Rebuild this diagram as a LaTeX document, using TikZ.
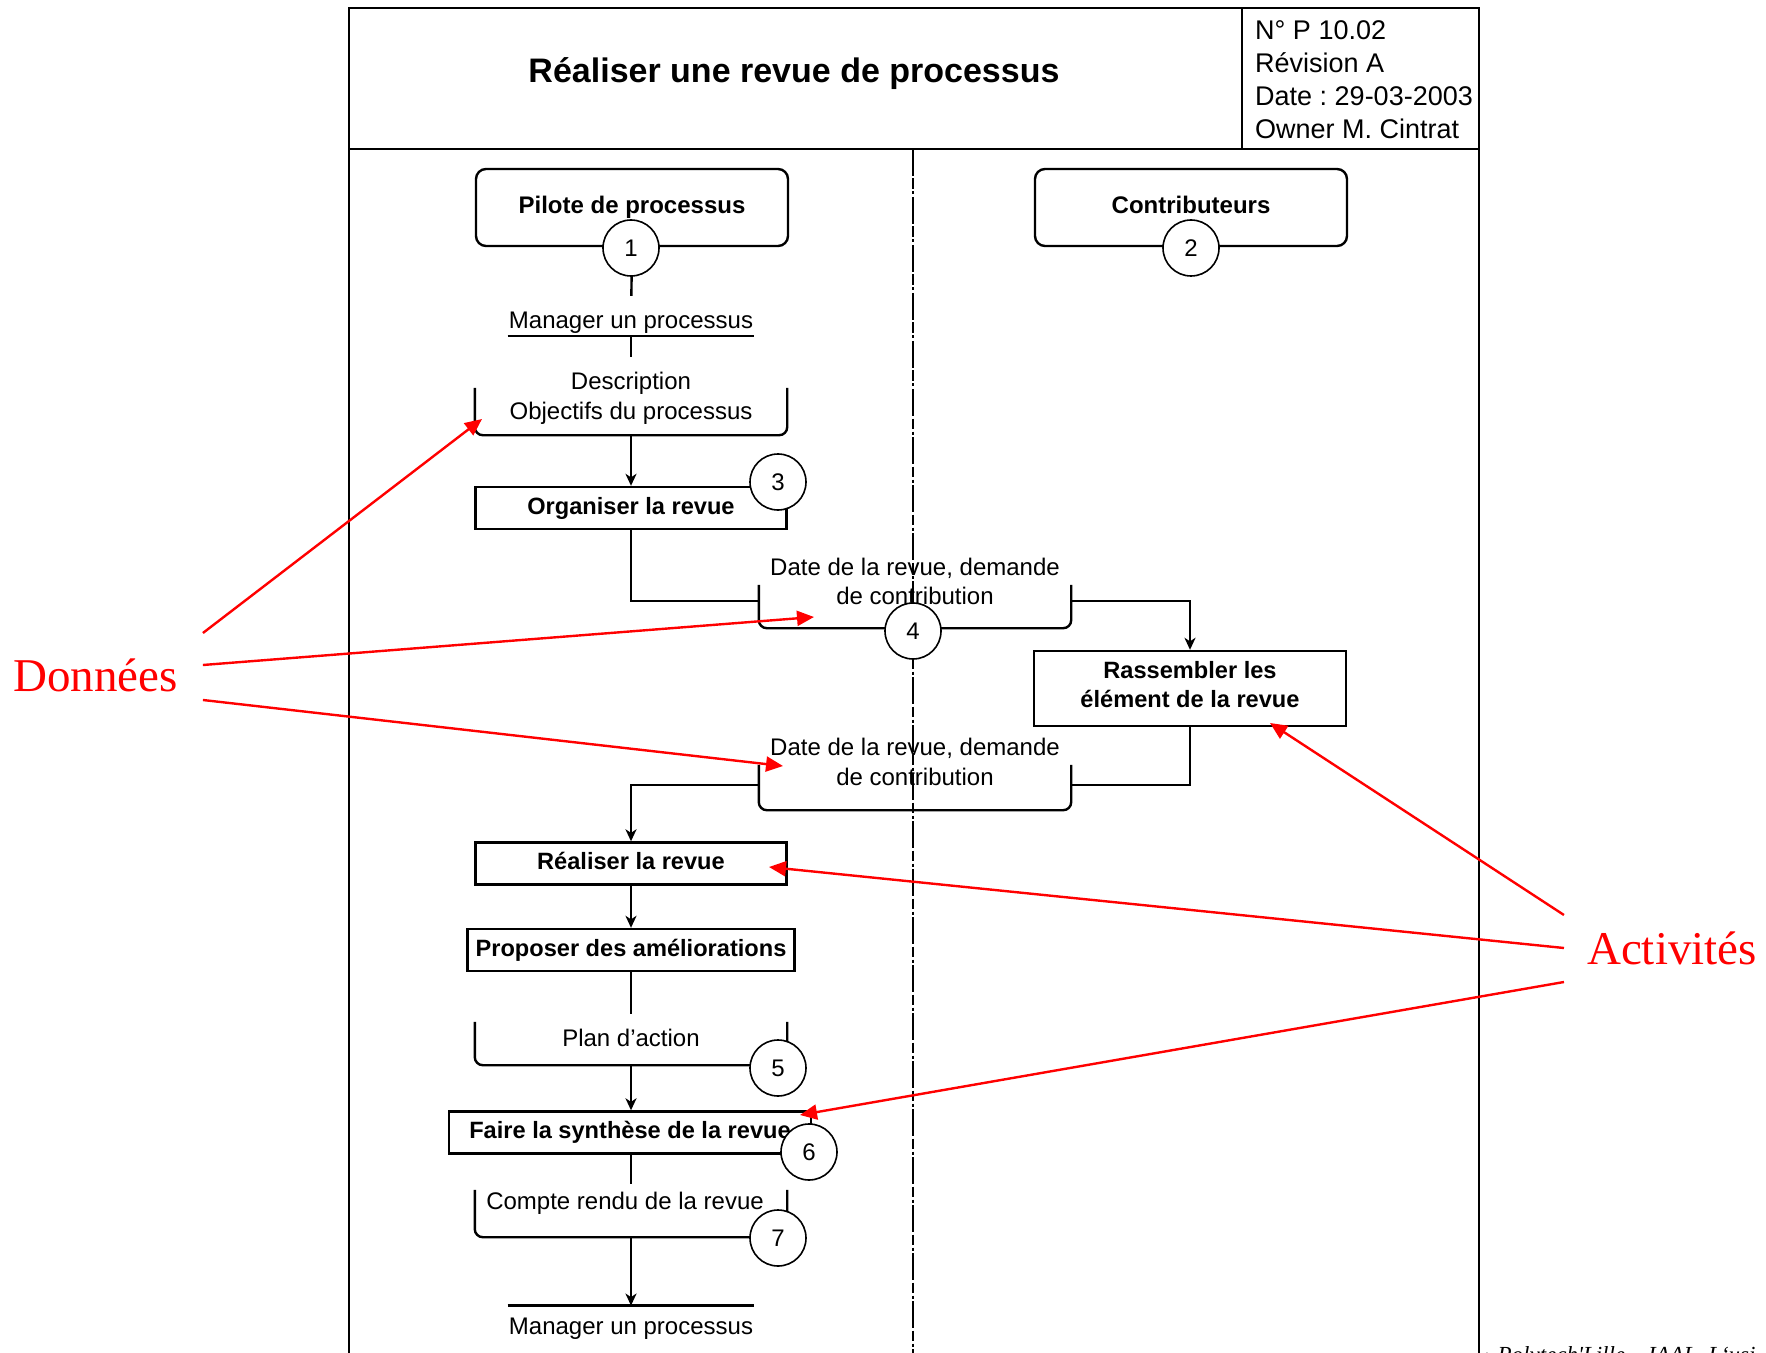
\documentclass[tikz,border=0pt]{standalone}
\usepackage{fontspec}
\setmainfont{Liberation Sans}
\newfontfamily\timesfont{Liberation Serif}
\frenchspacing
\usepackage{tikz}
\usetikzlibrary{arrows.meta,positioning,calc}
\tikzstyle{acteur}=[draw,rounded corners=5pt,minimum width=156pt,minimum height=38.5pt,text depth=2.5pt,font=\fontsize{12}{14.5}\selectfont\bfseries]
\tikzstyle{activite}=[draw,minimum height=21pt,inner sep=0pt,align=center,text depth=2.5pt,font=\fontsize{11.8}{14.5}\selectfont\bfseries]
\tikzstyle{numero}=[draw,circle,fill=white,line width=0.8pt,minimum size=28pt,inner sep=0pt,font=\fontsize{12}{14}\selectfont]
\tikzstyle{donnee}=[minimum width=155pt,inner sep=0pt]
\tikzstyle{crochet}=[draw,rounded corners=4pt]
\tikzstyle{texte}=[align=center,font=\fontsize{12}{14.75}\selectfont]
\tikzstyle{renvoi}=[inner xsep=0pt,font=\fontsize{12}{14.5}\selectfont]
\tikzstyle{flux}=[-{Stealth[length=6pt,width=5.5pt,inset=1.8pt]}]
\tikzstyle{rouge}=[red,line width=1.2pt,-{Triangle[length=8.5pt,width=7.5pt]}]
\tikzstyle{legende}=[red,font=\timesfont\fontsize{23.5}{28}\selectfont,anchor=base]

\begin{document}
\begin{tikzpicture}[x=0.5pt,y=-0.5pt,line width=1.2pt]
\useasboundingbox (0,0) rectangle (1766,1353);

% cadre et cartouche
\draw[line width=1.3pt] (349,1360) -- (349,8) -- (1479,8) -- (1479,1360);
\draw (349,149) -- (1479,149);
\draw (1242,8) -- (1242,149);
\node[font=\fontsize{17}{20}\selectfont\bfseries] (titre) at (794,73.5) {Réaliser une revue de processus};
\node[anchor=north west,align=left,inner sep=0pt,font=\fontsize{13.5}{16.5}\selectfont] (info) at (1254,19)
  {N° P 10.02\\Révision A\\Date : 29-03-2003\\Owner M. Cintrat};

% separation des couloirs
\draw[dash pattern=on 13.5pt off 1.25pt on 5.25pt off 1.25pt on 1.5pt off 1.25pt] (913,149) -- (913,1360);

% acteurs
\node[acteur] (pilote) at (632,207.5) {Pilote de processus};
\node[acteur] (contrib) at (1191,207.5) {Contributeurs};

% renvois
\node[renvoi,inner ysep=0.75pt] (mgr1) at (631,322.4) {Manager un processus};
\draw (mgr1.south west) -- (mgr1.south east);
\node[renvoi,inner ysep=5.45pt] (mgr2) at (631,1328.4) {Manager un processus};
\draw (mgr2.north west) -- (mgr2.north east);

% donnees
\node[donnee,minimum height=22.5pt] (d1) at (631,411.5) {};
\draw[crochet] (d1.north west) |- (d1.south east) -- (d1.north east);
\node[texte] (t1) at (631,398.5) {Description\\Objectifs du processus};
\node[donnee,minimum height=20.5pt] (d4) at (915,606.5) {};
\draw[crochet] (d4.north west) |- (d4.south east) -- (d4.north east);
\node[texte] (t4) at (915,581.5) {Date de la revue, demande\\de contribution};
\node[donnee,minimum height=21.5pt] (d5) at (915,787.5) {};
\draw[crochet] (d5.north west) |- (d5.south east) -- (d5.north east);
\node[texte] (t5) at (915,762) {Date de la revue, demande\\de contribution};
\node[donnee,minimum height=20.5pt] (d6) at (631,1043.5) {};
\draw[crochet] (d6.north west) |- (d6.south east) -- (d6.north east);
\node[texte] (t6) at (631,1038) {Plan d’action};
\node[donnee,minimum height=22.5pt] (d7) at (631,1213.5) {};
\draw[crochet] (d7.north west) |- (d7.south east) -- (d7.north east);
\node[texte] (t7) at (625,1203) {Compte rendu de la revue};

% activites
\node[activite,minimum width=155.5pt] (a1) at (631,508) {Organiser la revue};
\node[activite,minimum width=156pt,minimum height=37.5pt,text depth=4.5pt] (r1) at (1190,688.5) {Rassembler les\\élément de la revue};
\node[activite,minimum width=155.5pt] (a2) at (631,863.5) {Réaliser la revue};
\node[activite,minimum width=163.5pt] (a3) at (631,950) {Proposer des améliorations};
\node[activite,minimum width=181pt] (a4) at (630,1132.5) {Faire la synthèse de la revue};

% enchainements
\draw[shorten >=6.5pt] (pilote.south) -- (mgr1);
\draw[shorten >=4pt] (mgr1) -- (t1);
\draw[flux] (d1) -- (a1);
\draw (a1) |- ([yshift=2.75pt]d4.west);
\draw[flux] ([yshift=2.75pt]d4.east) -| (r1);
\draw (r1) |- ([yshift=1.25pt]d5.east);
\draw[flux] ([yshift=1.25pt]d5.west) -| (a2);
\draw[flux] (a2) -- (a3);
\draw[shorten >=3.5pt] (a3) -- (t6);
\draw[flux] (d6) -- (d6.south |- a4.north);
\draw (a4.south -| t6) -- (t6 |- t7.north);
\draw[flux] (d7) -- (mgr2);

% numeros
\node[numero] (n1) at (631,248) {1};
\node[numero] (n2) at (1191,248) {2};
\node[numero] (n3) at (778,482) {3};
\node[numero] (n4) at (913,631) {4};
\node[numero] (n5) at (778,1068) {5};
\node[numero] (n6) at (809,1152) {6};
\node[numero] (n7) at (778,1238) {7};

% annotations
\node[legende,inner xsep=12pt] (donnees) at (95.5,691) {Données};
\node[legende,inner xsep=11pt] (activites) at (1672,964) {Activités};
\coordinate (pd1) at (482,419);
\coordinate (pd4) at (814,617);
\coordinate (pd5) at (783,766);
\coordinate (pr1) at (1270,723);
\coordinate (pa2) at (769,867);
\coordinate (pa4) at (800,1115);
\draw[rouge] ([yshift=29pt]donnees.base east) -- (pd1);
\draw[rouge] ([yshift=13pt]donnees.base east) -- (pd4);
\draw[rouge] ([yshift=-4.5pt]donnees.base east) -- (pd5);
\draw[rouge] ([yshift=24.5pt]activites.base west) -- (pr1);
\draw[rouge] ([yshift=8pt]activites.base west) -- (pa2);
\draw[rouge] ([yshift=-9pt]activites.base west) -- (pa4);

% pied de page
\node[anchor=base west,inner sep=0pt,font=\timesfont\itshape\fontsize{11.5}{14}\selectfont] (pied) at (1483,1362) {› Polytech'Lille – IAAL, L‘usi};
\end{tikzpicture}
\end{document}
